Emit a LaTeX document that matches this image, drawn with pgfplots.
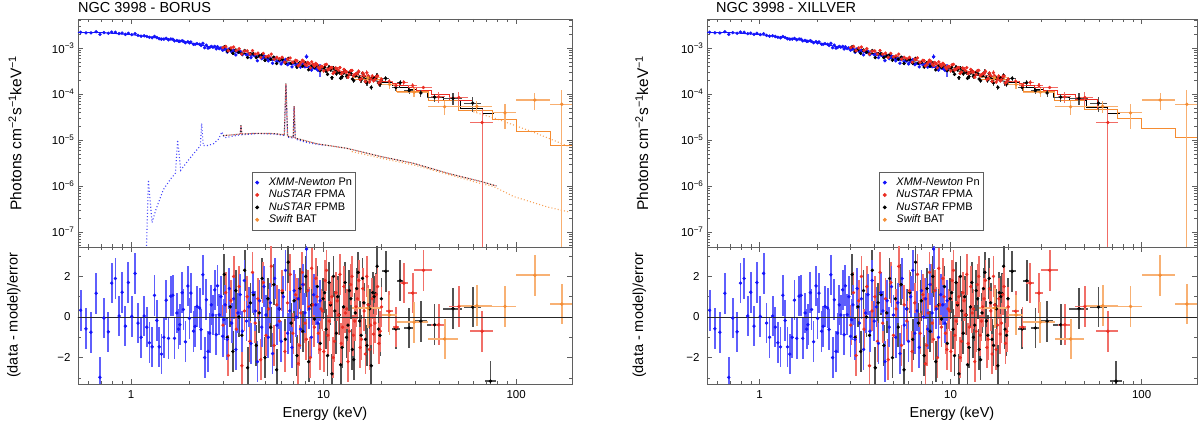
\documentclass[border=0pt]{standalone}
\usepackage{fontspec}
\setmainfont{Liberation Sans}
\usepackage{pgfplots}
\usepackage{pgfplotstable}
\pgfplotsset{compat=1.18}

\definecolor{cblue}{RGB}{20,20,250}
\definecolor{cred}{RGB}{235,45,35}
\definecolor{corange}{RGB}{245,140,50}
\definecolor{cframe}{RGB}{95,95,95}

\newcommand{\fsz}[1]{\fontsize{#1}{#1}\selectfont}
\newcommand{\sy}[1]{\textsuperscript{#1}}

% columns: energy, half bin width, flux, relative flux error, residual
\pgfplotstableread{
E dE F r R
0.547 0.007 2.21e-3 0.03 0.33
0.583 0.007 2.15e-3 0.03 -0.58
0.619 0.007 2.14e-3 0.03 -0.75
0.658 0.008 2.27e-3 0.03 1.17
0.689 0.008 1.99e-3 0.03 -2.97
0.723 0.009 2.18e-3 0.03 -0.05
0.762 0.009 2.10e-3 0.03 -0.73
0.793 0.009 2.23e-3 0.03 1.67
0.829 0.010 2.21e-3 0.03 1.90
0.866 0.010 2.07e-3 0.03 0.05
0.898 0.011 2.12e-3 0.03 1.22
0.934 0.011 1.99e-3 0.03 -0.45
0.968 0.012 2.10e-3 0.03 1.70
1.008 0.012 1.97e-3 0.03 0.03
1.049 0.013 2.06e-3 0.03 2.15
1.087 0.013 1.89e-3 0.03 -0.30
1.127 0.014 1.82e-3 0.03 -1.00
1.169 0.014 1.85e-3 0.03 0.05
1.207 0.015 1.79e-3 0.03 -0.50
1.245 0.015 1.72e-3 0.03 -1.27
1.286 0.015 1.68e-3 0.03 -1.47
1.323 0.016 1.79e-3 0.03 1.07
1.360 0.016 1.70e-3 0.03 -0.17
1.399 0.017 1.60e-3 0.03 -1.47
1.438 0.017 1.56e-3 0.03 -1.83
1.480 0.018 1.57e-3 0.03 -1.00
1.521 0.018 1.63e-3 0.03 0.83
1.564 0.019 1.52e-3 0.03 -1.05
1.609 0.019 1.58e-3 0.03 1.03
1.647 0.020 1.56e-3 0.03 1.07
1.681 0.020 1.44e-3 0.03 -1.05
1.729 0.021 1.47e-3 0.03 0.20
1.764 0.021 1.41e-3 0.03 -0.60
1.790 0.021 1.41e-3 0.03 -0.38
1.842 0.022 1.45e-3 0.03 1.20
1.870 0.022 1.40e-3 0.03 0.37
1.916 0.023 1.31e-3 0.03 -1.22
1.973 0.024 1.38e-3 0.03 1.53
2.010 0.024 1.30e-3 0.03 -0.07
2.045 0.025 1.36e-3 0.05 1.18
2.110 0.025 1.21e-3 0.05 -0.70
2.150 0.026 1.21e-3 0.05 -0.46
2.200 0.026 1.25e-3 0.05 0.52
2.270 0.027 1.21e-3 0.05 0.44
2.310 0.028 1.14e-3 0.05 -0.62
2.360 0.028 1.27e-3 0.05 2.08
2.410 0.029 1.02e-3 0.05 -2.00
2.460 0.030 1.16e-3 0.05 0.85
2.510 0.030 1.00e-3 0.05 -1.69
2.560 0.031 1.03e-3 0.05 -0.79
2.610 0.031 1.09e-3 0.05 0.60
2.660 0.032 1.05e-3 0.05 0.10
2.720 0.033 1.09e-3 0.05 1.34
2.770 0.033 9.60e-4 0.05 -0.87
2.810 0.034 1.07e-3 0.05 1.54
2.870 0.034 9.80e-4 0.05 0.11
2.930 0.035 1.01e-3 0.05 1.00
2.990 0.036 9.00e-4 0.05 -0.95
3.030 0.036 9.30e-4 0.05 -0.13
3.08 0.04 9.60e-4 0.08 0.6
3.16 0.04 8.16e-4 0.08 -1.1
3.24 0.04 9.72e-4 0.08 1.4
3.33 0.04 8.33e-4 0.08 -0.3
3.41 0.04 8.95e-4 0.08 0.9
3.50 0.04 7.12e-4 0.08 -1.6
3.59 0.04 8.10e-4 0.08 0.2
3.69 0.04 8.46e-4 0.08 1.1
3.78 0.05 7.18e-4 0.08 -0.7
3.88 0.05 8.50e-4 0.08 1.8
3.98 0.05 7.14e-4 0.08 -0.2
4.09 0.05 7.37e-4 0.08 0.5
4.19 0.05 6.21e-4 0.08 -1.3
4.30 0.05 7.42e-4 0.08 1.2
4.42 0.05 6.77e-4 0.08 0.3
4.53 0.05 5.32e-4 0.08 -2.2
4.65 0.06 6.71e-4 0.08 0.8
4.77 0.06 5.92e-4 0.08 -0.5
4.90 0.06 6.74e-4 0.08 1.5
5.02 0.06 5.94e-4 0.08 0.1
5.16 0.06 5.28e-4 0.08 -1.0
5.29 0.06 5.93e-4 0.08 0.7
5.43 0.07 4.69e-4 0.08 -1.8
5.57 0.07 6.17e-4 0.08 1.9
5.72 0.07 5.06e-4 0.08 -0.4
5.87 0.07 5.27e-4 0.08 0.4
6.02 0.07 4.52e-4 0.08 -1.2
6.18 0.07 5.27e-4 0.08 1.0
6.34 0.08 5.65e-4 0.08 2.3
6.50 0.08 4.36e-4 0.08 -0.8
6.67 0.08 4.67e-4 0.08 0.3
6.85 0.08 3.91e-4 0.08 -1.5
7.03 0.08 4.80e-4 0.08 1.3
7.21 0.09 4.25e-4 0.08 0.0
7.40 0.09 4.45e-4 0.08 0.9
7.59 0.09 3.86e-4 0.08 -0.6
7.79 0.09 4.47e-4 0.08 1.6
8.00 0.10 3.93e-4 0.08 0.2
8.15 0.10 6.50e-4 0.12 3.35
8.42 0.10 3.81e-4 0.10 0.4
8.64 0.10 3.32e-4 0.10 -1.0
8.87 0.11 3.83e-4 0.10 1.1
9.10 0.11 3.61e-4 0.10 0.6
9.34 0.11 3.28e-4 0.10 -0.3
9.58 0.12 3.40e-4 0.30 0.8
}\xmm

% XMM bins whose flux error bars show in the spectrum panel
\pgfplotstableread{
E dE F r R
8.15 0.10 6.50e-4 0.12 3.35
9.58 0.12 3.40e-4 0.30 0.8
}\xmmbig

\pgfplotstableread{
E dE F r R
3.00 0.05 1.022e-3 0.06 -0.4
3.10 0.05 1.092e-3 0.06 1.2
3.20 0.05 8.79e-4 0.06 -1.9
3.30 0.05 1.012e-3 0.06 0.8
3.41 0.05 1.053e-3 0.06 2.0
3.52 0.06 8.82e-4 0.06 -0.6
3.64 0.06 9.70e-4 0.06 1.5
3.76 0.06 7.41e-4 0.06 -2.4
3.88 0.06 8.58e-4 0.06 0.3
4.01 0.06 8.69e-4 0.06 1.0
4.14 0.07 7.41e-4 0.06 -1.2
4.27 0.07 8.81e-4 0.06 2.2
4.41 0.07 7.43e-4 0.06 -0.3
4.56 0.07 7.76e-4 0.06 0.9
4.71 0.08 6.26e-4 0.06 -2.1
4.86 0.08 7.69e-4 0.06 1.7
5.02 0.08 6.42e-4 0.06 -0.9
5.18 0.08 6.77e-4 0.06 0.4
5.35 0.09 7.40e-4 0.06 2.5
5.53 0.09 5.73e-4 0.06 -1.4
5.71 0.09 6.31e-4 0.06 0.6
5.90 0.09 5.86e-4 0.06 -0.2
6.09 0.10 6.30e-4 0.07 1.3
6.29 0.10 4.95e-4 0.07 -1.7
6.49 0.10 5.74e-4 0.07 0.7
6.70 0.11 6.11e-4 0.07 2.1
6.92 0.11 4.90e-4 0.07 -0.8
7.15 0.11 5.43e-4 0.07 1.1
7.26 0.12 5.29e-4 0.07 0.9
7.38 0.12 4.12e-4 0.07 -2.3
7.50 0.12 4.37e-4 0.07 -1.4
7.62 0.12 4.85e-4 0.07 0.2
7.75 0.12 5.44e-4 0.07 2.2
7.87 0.13 5.17e-4 0.07 1.6
8.00 0.13 4.49e-4 0.07 -0.3
8.13 0.13 4.18e-4 0.07 -1.1
8.27 0.13 4.87e-4 0.07 1.3
8.40 0.13 4.55e-4 0.07 0.5
8.53 0.14 3.74e-4 0.07 -2.0
8.67 0.14 5.01e-4 0.07 2.4
8.81 0.14 4.41e-4 0.07 0.6
8.95 0.14 4.03e-4 0.07 -0.5
9.10 0.15 4.67e-4 0.07 1.9
9.25 0.15 4.34e-4 0.07 1.0
9.40 0.15 3.79e-4 0.07 -0.8
9.55 0.15 3.51e-4 0.07 -1.6
9.70 0.16 4.01e-4 0.07 0.4
9.86 0.16 3.93e-4 0.07 0.3
10.02 0.16 3.21e-4 0.09 -1.7
10.18 0.16 4.35e-4 0.09 1.8
10.35 0.17 4.44e-4 0.09 2.3
10.51 0.17 3.34e-4 0.09 -0.9
10.69 0.17 3.51e-4 0.09 -0.2
10.86 0.17 3.74e-4 0.09 0.7
11.04 0.18 3.78e-4 0.09 1.0
11.21 0.18 2.80e-4 0.09 -2.0
11.40 0.18 3.00e-4 0.09 -1.2
11.58 0.18 3.68e-4 0.09 1.2
11.77 0.19 3.50e-4 0.09 0.8
11.96 0.19 3.25e-4 0.09 0.1
12.15 0.20 3.77e-4 0.09 2.1
12.35 0.20 2.76e-4 0.09 -1.3
12.55 0.20 2.94e-4 0.09 -0.5
12.75 0.20 3.44e-4 0.09 1.5
12.96 0.21 3.04e-4 0.09 0.2
13.17 0.21 3.05e-4 0.09 0.4
13.38 0.21 2.33e-4 0.09 -2.2
13.60 0.22 2.68e-4 0.09 -0.7
13.82 0.22 3.22e-4 0.09 1.6
14.04 0.22 3.27e-4 0.09 2.0
14.27 0.23 2.51e-4 0.09 -0.9
14.50 0.23 2.64e-4 0.09 -0.2
14.74 0.24 2.77e-4 0.09 0.5
14.98 0.24 2.82e-4 0.09 0.9
15.22 0.24 3.13e-4 0.12 1.8
15.47 0.25 2.08e-4 0.12 -1.5
15.72 0.25 2.17e-4 0.12 -1.1
15.97 0.25 2.87e-4 0.12 1.4
16.23 0.26 2.51e-4 0.12 0.3
16.49 0.26 1.87e-4 0.12 -1.82
16.76 0.27 2.91e-4 0.12 2.0
17.03 0.27 2.49e-4 0.12 0.6
17.31 0.28 1.84e-4 0.12 -1.6
17.59 0.28 2.14e-4 0.12 -0.4
17.87 0.29 2.46e-4 0.12 0.9
18.16 0.29 1.96e-4 0.12 -0.84
18.46 0.30 2.07e-4 0.12 -0.3
18.76 0.30 2.40e-4 0.12 1.1
19.06 0.31 2.47e-4 0.12 1.5
19.37 0.31 1.74e-4 0.12 -1.3
19.68 0.32 1.86e-4 0.12 -0.7
20.00 0.32 2.11e-4 0.12 0.5
}\fpma

\pgfplotstableread{
E dE F r R
21.9 0.9 1.89e-4 0.15 0.28
23.8 0.9 1.54e-4 0.15 -0.5
26.1 1.2 1.80e-4 0.12 1.67
29.0 1.5 1.53e-4 0.12 1.18
33.0 3.4 1.39e-4 0.08 2.3
39.6 3.3 8.70e-5 0.25 -0.38
50.4 5.5 8.40e-5 0.30 0.52
66.6 9.0 2.40e-5 0.9999 -0.7
}\fpmahi

\pgfplotstableread{
E dE F r R
3.05 0.05 1.071e-3 0.065 2.1
3.16 0.05 8.55e-4 0.065 -1.0
3.27 0.05 9.17e-4 0.065 0.5
3.38 0.05 7.69e-4 0.065 -1.7
3.50 0.06 9.10e-4 0.065 1.3
3.63 0.06 8.14e-4 0.065 0.0
3.76 0.06 7.44e-4 0.065 -0.9
3.89 0.06 8.83e-4 0.065 2.3
4.03 0.06 6.24e-4 0.065 -2.5
4.17 0.07 7.57e-4 0.065 0.7
4.32 0.07 7.53e-4 0.065 1.1
4.47 0.07 6.21e-4 0.065 -1.4
4.63 0.07 6.72e-4 0.065 0.2
4.79 0.08 7.24e-4 0.065 1.9
4.96 0.08 5.45e-4 0.065 -2.0
5.14 0.08 6.42e-4 0.065 0.9
5.32 0.09 5.71e-4 0.065 -0.5
5.51 0.09 6.33e-4 0.065 1.6
5.70 0.09 4.63e-4 0.065 -2.6
5.90 0.09 5.55e-4 0.065 0.4
6.11 0.10 5.72e-4 0.075 1.2
6.33 0.10 4.68e-4 0.075 -1.1
6.55 0.10 5.95e-4 0.075 2.7
6.78 0.11 4.70e-4 0.075 -0.3
7.02 0.11 4.95e-4 0.075 0.8
7.27 0.12 3.89e-4 0.075 -1.9
7.53 0.12 4.86e-4 0.075 1.4
7.80 0.12 4.06e-4 0.075 -0.7
8.07 0.13 4.78e-4 0.075 2.0
8.36 0.13 3.37e-4 0.075 -2.2
8.66 0.14 4.09e-4 0.075 0.6
8.96 0.14 3.78e-4 0.075 -0.1
9.28 0.15 4.11e-4 0.075 1.5
9.61 0.15 3.24e-4 0.075 -1.3
9.95 0.16 3.72e-4 0.075 0.9
10.12 0.16 3.84e-4 0.10 1.2
10.30 0.16 3.17e-4 0.10 -0.6
10.48 0.17 2.69e-4 0.10 -1.9
10.67 0.17 3.81e-4 0.10 1.7
10.86 0.17 3.40e-4 0.10 0.6
11.05 0.18 2.27e-4 0.10 -2.8
11.25 0.18 3.73e-4 0.10 2.0
11.44 0.18 3.15e-4 0.10 0.3
11.64 0.19 2.77e-4 0.10 -0.8
11.84 0.19 3.26e-4 0.10 1.0
12.05 0.19 2.94e-4 0.10 0.1
12.26 0.20 2.20e-4 0.10 -2.35
12.48 0.20 2.40e-4 0.10 -1.5
12.70 0.20 2.92e-4 0.10 0.5
12.92 0.21 3.19e-4 0.10 1.7
13.15 0.21 2.42e-4 0.10 -1.0
13.38 0.21 2.54e-4 0.10 -0.4
13.61 0.22 2.94e-4 0.10 1.3
13.85 0.22 2.79e-4 0.10 0.9
14.10 0.23 2.12e-4 0.10 -1.6
14.35 0.23 1.96e-4 0.10 -2.1
14.60 0.23 2.49e-4 0.10 0.2
14.85 0.24 2.74e-4 0.10 1.4
15.11 0.24 3.03e-4 0.13 2.2
15.38 0.25 2.26e-4 0.13 -0.2
15.65 0.25 2.02e-4 0.13 -0.9
15.92 0.25 2.81e-4 0.13 1.9
16.20 0.26 2.42e-4 0.13 0.7
16.49 0.26 1.87e-4 0.13 -1.1
16.78 0.27 1.75e-4 0.13 -1.4
17.07 0.27 2.27e-4 0.13 0.6
17.37 0.28 2.18e-4 0.13 0.4
17.68 0.28 1.40e-4 0.13 -2.4
17.99 0.29 2.32e-4 0.13 1.2
18.30 0.29 2.23e-4 0.13 1.0
18.62 0.30 2.24e-4 0.13 1.15
18.95 0.30 2.54e-4 0.13 2.5
19.28 0.31 1.74e-4 0.13 -0.6
19.62 0.31 1.64e-4 0.13 -0.9
19.97 0.32 2.03e-4 0.13 0.9
}\fpmb

\pgfplotstableread{
E dE F r R
21.0 0.9 2.20e-4 0.12 2.25
23.7 1.1 1.39e-4 0.15 -0.59
25.0 1.0 1.77e-4 0.13 1.79
27.8 1.6 1.18e-4 0.15 -0.54
32.0 2.5 1.06e-4 0.18 -0.21
37.7 3.3 8.57e-5 0.20 -0.38
47.0 5.3 8.06e-5 0.30 0.41
59.5 6.0 6.35e-5 0.35 0.49
73.5 5.0 nan 0.5 -3.16
}\fpmbhi

\pgfplotstableread{
E dE F r R
17.0 3.0 2.25e-4 0.15 0.44
22.0 2.0 1.62e-4 0.20 0.10
29.5 5.5 1.10e-4 0.22 -0.26
42.5 7.5 5.30e-5 0.35 -1.08
62.5 12.5 5.40e-5 0.30 0.56
87.5 12.5 3.90e-5 0.56 0.52
125.0 25.0 7.40e-5 0.40 2.06
172.5 22.5 6.00e-5 0.9999 0.64
}\bat

\pgfplotsset{
  spmk/.style={only marks, mark=*, mark size=1.5pt, color=#1, forget plot},
  spdat/.style={only marks, mark=*, mark size=1.5pt, color=#1, forget plot,
    error bars/y dir=both, error bars/y explicit relative,
    error bars/error mark=none,
    error bars/error bar style={line width=1.2pt, color=#1!70!white}},
  spdatx/.style={spdat=#1, error bars/x dir=both, error bars/x explicit},
  rsdat/.style={only marks, mark=*, mark size=1.5pt, color=#1, forget plot,
    error bars/y dir=both, error bars/y fixed=1,
    error bars/error mark=none,
    error bars/error bar style={line width=1.8pt, color=#1!68!white}},
  rsdatx/.style={rsdat=#1, error bars/x dir=both, error bars/x explicit},
  mdline/.style={color=#1, line width=0.9pt, forget plot},
  cpline/.style={color=#1!80!white, line width=1.1pt, forget plot, dash pattern=on 1pt off 2.2pt},
}

\begin{document}
\begin{tikzpicture}
\path[use as bounding box] (0pt,0pt) rectangle (1200pt,430pt);
\node[anchor=base west, inner sep=0pt, font=\fsz{14.5}] at (78pt,417.3pt) {NGC 3998 - BORUS};
\node[anchor=base west, inner sep=0pt, font=\fsz{14.5}] at (716pt,417.3pt) {NGC 3998 - XILLVER};

% ---------------- BORUS spectrum
\begin{axis}[at={(78pt,183pt)}, anchor=south west, width=494pt, height=228pt,
  scale only axis, xmode=log, ymode=log, xmin=0.53, xmax=195, ymin=4.7e-8, ymax=4.3e-3,
  axis line style={cframe, line width=0.8pt}, tick style={cframe, line width=0.7pt},
  tick align=inside, major tick length=5pt, minor tick length=2.8pt,
  tick label style={font=\fsz{11.5}},
  xtick={1,10,100}, xticklabels={,,},
  minor xtick={0.6,0.7,0.8,0.9,2,3,4,5,6,7,8,9,20,30,40,50,60,70,80,90},
  ytick={1e-7,1e-6,1e-5,1e-4,1e-3},
  yticklabels={10\sy{−7},10\sy{−6},10\sy{−5},10\sy{−4},10\sy{−3}},
  minor ytick={5e-8,6e-8,7e-8,8e-8,9e-8,2e-7,3e-7,4e-7,5e-7,6e-7,7e-7,8e-7,9e-7,
    2e-6,3e-6,4e-6,5e-6,6e-6,7e-6,8e-6,9e-6,2e-5,3e-5,4e-5,5e-5,6e-5,7e-5,8e-5,9e-5,
    2e-4,3e-4,4e-4,5e-4,6e-4,7e-4,8e-4,9e-4,2e-3,3e-3,4e-3},
  ylabel={Photons cm\sy{−2}s\sy{−1}keV\sy{−1}},
  ylabel style={font=\fsz{15.5}, at={(axis description cs:-0.1275,0.5)}, anchor=center},
  legend cell align=left,
  legend image code/.code={\fill (0pt,0pt) circle (1.5pt);
    \node[inner sep=0pt, minimum width=12pt, minimum height=3pt, anchor=west] at (-1.5pt,0pt) {};},
  legend style={at={(0.352,0.329)}, anchor=north west, draw=cframe, line width=0.8pt,
    font=\fsz{11}, inner xsep=3pt, inner ysep=4pt,
    nodes={inner sep=0.8pt, text height=8.2pt, text depth=2.6pt}}]
\addlegendimage{cblue}\addlegendentry{\textit{XMM-Newton} Pn}
\addlegendimage{cred}\addlegendentry{\textit{NuSTAR} FPMA}
\addlegendimage{black}\addlegendentry{\textit{NuSTAR} FPMB}
\addlegendimage{corange}\addlegendentry{\textit{Swift} BAT}
% reprocessed components
\addplot[cpline=cblue] coordinates {(1.19,1e-8) (1.23,1.35e-6) (1.285,1.6e-7) (1.35,3.2e-7)
  (1.47,8.3e-7) (1.60,1.4e-6) (1.70,1.9e-6) (1.745,1.0e-5) (1.81,2.2e-6) (2.0,3.8e-6)
  (2.15,5.5e-6) (2.29,7.5e-6) (2.325,2.3e-5) (2.37,7.6e-6) (2.5,7.6e-6) (2.68,8.3e-6)
  (2.85,1.05e-5) (2.96,1.5e-5) (3.06,1.12e-5) (3.4,1.22e-5) (3.69,1.3e-5) (3.72,2.0e-5)
  (3.76,1.3e-5) (4.5,1.38e-5) (5.5,1.35e-5) (6.25,1.25e-5) (6.37,1.6e-4) (6.5,1.15e-5)
  (6.95,1.1e-5) (7.03,5.3e-5) (7.12,1.05e-5) (8,9.0e-6) (9,8.2e-6) (10.2,7.6e-6)};
\addplot[cpline=black] coordinates {(3.0,1.25e-5) (3.4,1.3e-5) (3.69,1.35e-5) (3.72,2.1e-5)
  (3.76,1.35e-5) (4.5,1.4e-5) (5.5,1.38e-5) (6.25,1.3e-5) (6.37,1.7e-4) (6.5,1.2e-5)
  (6.95,1.15e-5) (7.03,5.5e-5) (7.12,1.1e-5) (9.2,8.3e-6) (13.2,6.6e-6) (19.7,4.4e-6)
  (29.4,3.1e-6) (43.9,1.9e-6) (66.6,1.23e-6) (79,1.0e-6)};
\addplot[cpline=cred, dash phase=1.6pt] coordinates {(3.0,1.25e-5) (3.4,1.3e-5) (3.69,1.35e-5)
  (3.72,2.1e-5) (3.76,1.35e-5) (4.5,1.4e-5) (5.5,1.38e-5) (6.25,1.3e-5) (6.37,1.7e-4)
  (6.5,1.2e-5) (6.95,1.15e-5) (7.03,5.5e-5) (7.12,1.1e-5) (9.2,8.3e-6) (13.2,6.6e-6)
  (19.7,4.4e-6) (29.4,3.1e-6) (43.9,1.9e-6) (66.6,1.23e-6) (79,1.0e-6)};
\addplot[cpline=corange] coordinates {(14,5.6e-6) (20,4.0e-6) (30,2.8e-6) (45,1.75e-6)
  (66,1.12e-6) (76,9.8e-7) (97,5.9e-7) (145,3.5e-7) (190,2.7e-7)};
\addplot[cpline=corange] coordinates {(60,4.1e-5) (79,2.9e-5) (122,1.5e-5) (190,7.1e-6)};
% models
\addplot[mdline=cblue] coordinates {(0.53,2.19e-3) (0.7,2.18e-3) (1,1.97e-3) (1.5,1.60e-3)
  (2,1.306e-3) (3,9.38e-4) (5,5.82e-4) (7,4.32e-4) (9.6,3.29e-4)};
\addplot[mdline=black] coordinates {(3,9.55e-4) (5,6.2e-4) (10,3.47e-4) (20,1.82e-4)};
\addplot[mdline=black, const plot] coordinates {(20,1.78e-4) (22.9,1.52e-4) (24.9,1.42e-4)
  (27.5,1.27e-4) (30.5,1.10e-4) (34.6,8.5e-5) (42,7.2e-5) (51.6,4.9e-5) (66.5,3.7e-5) (76.7,3.7e-5)};
\addplot[mdline=cred] coordinates {(3,1.047e-3) (5,6.8e-4) (10,3.80e-4) (20,1.995e-4)};
\addplot[mdline=cred, const plot] coordinates {(20,1.9e-4) (22.9,1.66e-4) (24.9,1.55e-4)
  (27.5,1.39e-4) (30.5,1.22e-4) (36.3,9.7e-5) (44.9,7.4e-5) (59,4.5e-5) (75.6,4.5e-5)};
\addplot[mdline=corange, const plot] coordinates {(14,2.1e-4) (20,1.6e-4) (24,1.15e-4)
  (35,7.1e-5) (50,4.5e-5) (75,2.8e-5) (100,1.5e-5) (150,7.6e-6) (195,7.6e-6)};
% data
\addplot[spmk=cblue] table[x=E, y=F] {\xmm};
\addplot[spdat=cblue] table[x=E, y=F, y error=r] {\xmmbig};
\addplot[spdat=black] table[x=E, y=F, y error=r] {\fpmb};
\addplot[spdatx=black] table[x=E, y=F, x error=dE, y error=r] {\fpmbhi};
\addplot[spdat=cred] table[x=E, y=F, y error=r] {\fpma};
\addplot[spdatx=cred] table[x=E, y=F, x error=dE, y error=r] {\fpmahi};
\addplot[spdatx=corange] table[x=E, y=F, x error=dE, y error=r] {\bat};
\end{axis}

% ---------------- BORUS residuals
\begin{axis}[at={(78pt,46pt)}, anchor=south west, width=494pt, height=137pt,
  scale only axis, xmode=log, xmin=0.53, xmax=195, ymin=-3.3, ymax=3.45,
  axis line style={cframe, line width=0.8pt}, tick style={cframe, line width=0.7pt},
  tick align=inside, major tick length=5pt, minor tick length=2.8pt,
  tick label style={font=\fsz{11.5}},
  xtick={1,10,100}, xticklabels={1,10,100},
  minor xtick={0.6,0.7,0.8,0.9,2,3,4,5,6,7,8,9,20,30,40,50,60,70,80,90},
  ytick={-2,0,2}, yticklabels={−2,0,2}, minor ytick={-3,-1,1,3},
  yticklabel style={xshift=-4pt}, xticklabel style={yshift=-3pt},
  xlabel={Energy (keV)}, ylabel={(data - model)/error},
  xlabel style={font=\fsz{14.5}, at={(axis description cs:0.5,0)}, anchor=base, yshift=-34pt},
  ylabel style={font=\fsz{14.5}, at={(axis description cs:-0.1296,0.5)}, anchor=center}]
\addplot[rsdat=black] table[x=E, y=R] {\fpmb};
\addplot[rsdatx=black] table[x=E, y=R, x error=dE] {\fpmbhi};
\addplot[rsdat=cred] table[x=E, y=R] {\fpma};
\addplot[rsdatx=cred] table[x=E, y=R, x error=dE] {\fpmahi};
\addplot[rsdat=cblue] table[x=E, y=R] {\xmm};
\addplot[rsdatx=corange] table[x=E, y=R, x error=dE] {\bat};
\addplot[black!85, line width=0.6pt, forget plot] coordinates {(0.5,0) (200,0)};
\end{axis}

% ---------------- XILLVER spectrum
\begin{axis}[at={(707pt,183pt)}, anchor=south west, width=490pt, height=228pt,
  scale only axis, xmode=log, ymode=log, xmin=0.53, xmax=195, ymin=4.7e-8, ymax=4.3e-3,
  axis line style={cframe, line width=0.8pt}, tick style={cframe, line width=0.7pt},
  tick align=inside, major tick length=5pt, minor tick length=2.8pt,
  tick label style={font=\fsz{11.5}},
  xtick={1,10,100}, xticklabels={,,},
  minor xtick={0.6,0.7,0.8,0.9,2,3,4,5,6,7,8,9,20,30,40,50,60,70,80,90},
  ytick={1e-7,1e-6,1e-5,1e-4,1e-3},
  yticklabels={10\sy{−7},10\sy{−6},10\sy{−5},10\sy{−4},10\sy{−3}},
  minor ytick={5e-8,6e-8,7e-8,8e-8,9e-8,2e-7,3e-7,4e-7,5e-7,6e-7,7e-7,8e-7,9e-7,
    2e-6,3e-6,4e-6,5e-6,6e-6,7e-6,8e-6,9e-6,2e-5,3e-5,4e-5,5e-5,6e-5,7e-5,8e-5,9e-5,
    2e-4,3e-4,4e-4,5e-4,6e-4,7e-4,8e-4,9e-4,2e-3,3e-3,4e-3},
  ylabel={Photons cm\sy{−2}s\sy{−1}keV\sy{−1}},
  ylabel style={font=\fsz{15.5}, at={(axis description cs:-0.1333,0.5)}, anchor=center},
  legend cell align=left,
  legend image code/.code={\fill (0pt,0pt) circle (1.5pt);
    \node[inner sep=0pt, minimum width=12pt, minimum height=3pt, anchor=west] at (-1.5pt,0pt) {};},
  legend style={at={(0.352,0.329)}, anchor=north west, draw=cframe, line width=0.8pt,
    font=\fsz{11}, inner xsep=3pt, inner ysep=4pt,
    nodes={inner sep=0.8pt, text height=8.2pt, text depth=2.6pt}}]
\addlegendimage{cblue}\addlegendentry{\textit{XMM-Newton} Pn}
\addlegendimage{cred}\addlegendentry{\textit{NuSTAR} FPMA}
\addlegendimage{black}\addlegendentry{\textit{NuSTAR} FPMB}
\addlegendimage{corange}\addlegendentry{\textit{Swift} BAT}
\addplot[mdline=cblue] coordinates {(0.53,2.19e-3) (0.7,2.18e-3) (1,1.97e-3) (1.5,1.60e-3)
  (2,1.306e-3) (3,9.38e-4) (5,5.82e-4) (7,4.32e-4) (9.6,3.29e-4)};
\addplot[mdline=black] coordinates {(3,9.55e-4) (5,6.2e-4) (10,3.47e-4) (20,1.82e-4)};
\addplot[mdline=black, const plot] coordinates {(20,1.78e-4) (22.9,1.52e-4) (24.9,1.42e-4)
  (27.5,1.27e-4) (30.5,1.10e-4) (34.6,8.6e-5) (42,7.3e-5) (51.6,5.0e-5) (66.5,3.8e-5) (76.7,3.8e-5)};
\addplot[mdline=cred] coordinates {(3,1.047e-3) (5,6.8e-4) (10,3.80e-4) (20,1.995e-4)};
\addplot[mdline=cred, const plot] coordinates {(20,1.9e-4) (22.9,1.66e-4) (24.9,1.55e-4)
  (27.5,1.39e-4) (30.5,1.22e-4) (36.3,9.8e-5) (44.9,7.5e-5) (59,4.6e-5) (75.6,4.6e-5)};
\addplot[mdline=corange, const plot] coordinates {(14,2.1e-4) (20,1.6e-4) (24,1.15e-4)
  (35,7.2e-5) (50,4.6e-5) (75,2.9e-5) (100,1.8e-5) (150,1.14e-5) (195,1.14e-5)};
\addplot[spmk=cblue] table[x=E, y=F] {\xmm};
\addplot[spdat=cblue] table[x=E, y=F, y error=r] {\xmmbig};
\addplot[spdat=black] table[x=E, y=F, y error=r] {\fpmb};
\addplot[spdatx=black] table[x=E, y=F, x error=dE, y error=r] {\fpmbhi};
\addplot[spdat=cred] table[x=E, y=F, y error=r] {\fpma};
\addplot[spdatx=cred] table[x=E, y=F, x error=dE, y error=r] {\fpmahi};
\addplot[spdatx=corange] table[x=E, y=F, x error=dE, y error=r] {\bat};
\end{axis}

% ---------------- XILLVER residuals
\begin{axis}[at={(707pt,46pt)}, anchor=south west, width=490pt, height=137pt,
  scale only axis, xmode=log, xmin=0.53, xmax=195, ymin=-3.3, ymax=3.45,
  axis line style={cframe, line width=0.8pt}, tick style={cframe, line width=0.7pt},
  tick align=inside, major tick length=5pt, minor tick length=2.8pt,
  tick label style={font=\fsz{11.5}},
  xtick={1,10,100}, xticklabels={1,10,100},
  minor xtick={0.6,0.7,0.8,0.9,2,3,4,5,6,7,8,9,20,30,40,50,60,70,80,90},
  ytick={-2,0,2}, yticklabels={−2,0,2}, minor ytick={-3,-1,1,3},
  yticklabel style={xshift=-4pt}, xticklabel style={yshift=-3pt},
  xlabel={Energy (keV)}, ylabel={(data - model)/error},
  xlabel style={font=\fsz{14.5}, at={(axis description cs:0.5,0)}, anchor=base, yshift=-34pt},
  ylabel style={font=\fsz{14.5}, at={(axis description cs:-0.138,0.5)}, anchor=center}]
\addplot[rsdat=black] table[x=E, y=R] {\fpmb};
\addplot[rsdatx=black] table[x=E, y=R, x error=dE] {\fpmbhi};
\addplot[rsdat=cred] table[x=E, y=R] {\fpma};
\addplot[rsdatx=cred] table[x=E, y=R, x error=dE] {\fpmahi};
\addplot[rsdat=cblue] table[x=E, y=R] {\xmm};
\addplot[rsdatx=corange] table[x=E, y=R, x error=dE] {\bat};
\addplot[black!85, line width=0.6pt, forget plot] coordinates {(0.5,0) (200,0)};
\end{axis}
\end{tikzpicture}
\end{document}
